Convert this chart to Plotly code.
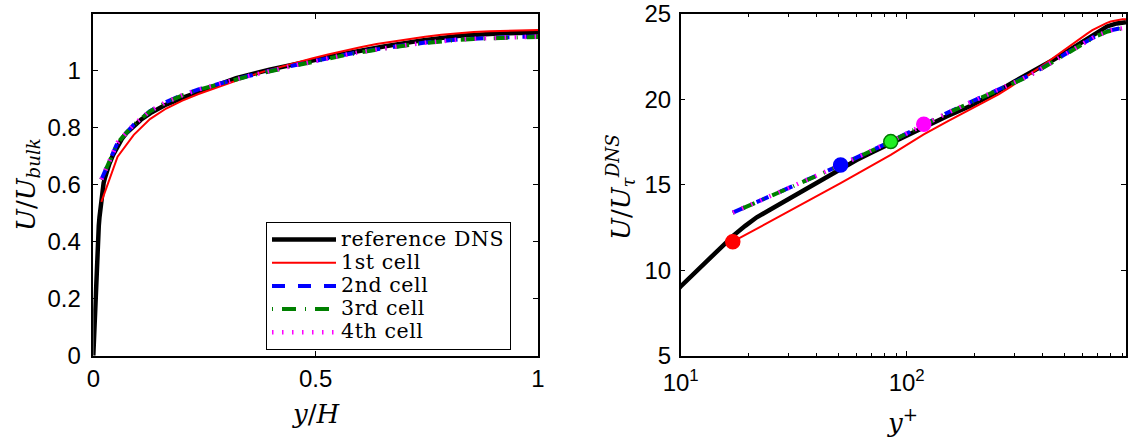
import math
import plotly.graph_objects as go

# Channel flow at Re_tau = 934: DNS reference profile and wall-modelled LES
# in which the wall model is fed from the 1st, 2nd, 3rd or 4th off-wall cell.
RE_TAU = 934.0      # y/H = y+ / Re_tau
UB_PLUS = 21.6      # bulk velocity in wall units, U/U_bulk = U+ / Ub+

# DNS reference profile (wall units)
dns_yplus = [0, 1, 2, 3, 4, 5, 6, 7, 8, 9, 10, 11.5, 13.04, 15, 17.2, 19.3,
             21.7, 24.5, 27.5, 33.7, 41.3, 51, 60, 70, 85.9, 100, 120, 150,
             190, 240, 300, 370, 450, 530, 610, 690, 770, 850, 934]
dns_uplus = [0.0, 1.0, 2.0, 3.0, 3.98, 4.93, 5.84, 6.7, 7.52, 8.3, 9.06,
             9.85, 10.53, 11.3, 12.06, 12.6, 13.1, 13.5, 13.88, 14.55, 15.22,
             15.95, 16.45, 16.9, 17.48, 17.9, 18.4, 19.0, 19.6, 20.3, 21.05,
             21.7, 22.35, 22.92, 23.45, 23.92, 24.27, 24.45, 24.52]

# LES cell centres (wall units)
les_yplus = [17, 51, 85, 119, 153, 187, 221, 255, 289, 323, 357, 391, 425,
             459, 493, 527, 561, 595, 629, 663, 697, 731, 765, 799, 833, 867,
             901, 934]

les1_uplus = [11.67, 15.1, 16.75, 17.95, 18.75, 19.35, 19.85, 20.3, 20.75,
              21.15, 21.55, 21.9, 22.25, 22.55, 22.85, 23.15, 23.4, 23.65,
              23.85, 24.05, 24.2, 24.35, 24.47, 24.56, 24.62, 24.66, 24.69,
              24.7]
les2_uplus = [13.37, 16.16, 17.53, 18.55, 19.25, 19.78, 20.2, 20.55, 20.9,
              21.2, 21.48, 21.8, 22.05, 22.3, 22.58, 22.82, 23.05, 23.25,
              23.43, 23.6, 23.75, 23.88, 23.98, 24.05, 24.11, 24.16, 24.19,
              24.2]
les3_uplus = [13.37, 16.14, 17.53, 18.53, 19.22, 19.75, 20.17, 20.52, 20.87,
              21.17, 21.45, 21.77, 22.02, 22.27, 22.55, 22.79, 23.02, 23.22,
              23.4, 23.57, 23.72, 23.85, 23.95, 24.02, 24.08, 24.13, 24.16,
              24.17]
les4_uplus = [13.38, 16.16, 17.54, 18.55, 19.24, 19.77, 20.19, 20.54, 20.89,
              21.19, 21.47, 21.79, 22.04, 22.29, 22.57, 22.81, 23.04, 23.24,
              23.42, 23.59, 23.74, 23.87, 23.97, 24.04, 24.1, 24.15, 24.18,
              24.19]

legend_names = ["reference DNS", "1st cell", "2nd cell", "3rd cell", "4th cell"]

left_xticks = [0, 0.5, 1]
left_xticktext = ["0", "0.5", "1"]
left_yticks = [0, 0.2, 0.4, 0.6, 0.8, 1]
left_yticktext = ["0", "0.2", "0.4", "0.6", "0.8", "1"]
right_xticks = [10, 100]
right_xticktext = ["10<sup>1</sup>", "10<sup>2</sup>"]
right_xminor = [20, 30, 40, 50, 60, 70, 80, 90, 200, 300, 400, 500, 600,
                700, 800, 900]
right_yticks = [5, 10, 15, 20, 25]

W, H = 1128, 439
SERIF = "DejaVu Serif"
SANS = "Liberation Sans"

series = [
    # yplus, uplus, colour, width, dash
    (dns_yplus, dns_uplus, "#000000", 4.5, "solid"),
    (les_yplus, les1_uplus, "#ff0000", 2.0, "solid"),
    (les_yplus, les2_uplus, "#0000ff", 4.0, "13px,13px"),
    (les_yplus, les3_uplus, "#008000", 4.0, "1px,9px,14px,9px"),
    (les_yplus, les4_uplus, "#ff00ff", 4.5, "1.5px,8.5px"),
]

# legend glyphs a little larger than the row pitch set by legend.font.size
LEGEND_TEXT = ('<span style="font-size:20.5px;letter-spacing:0.6px">'
               '%s</span>')

fig = go.Figure()

for (yp, up, col, lw, dash), name in zip(series, legend_names):
    # outer scaling (left panel)
    fig.add_trace(go.Scatter(
        x=[v / RE_TAU for v in yp], y=[u / UB_PLUS for u in up],
        mode="lines", name=LEGEND_TEXT % name,
        line=dict(color=col, width=lw, dash=dash),
        xaxis="x", yaxis="y", showlegend=True, hoverinfo="skip"))

for yp, up, col, lw, dash in series:
    # wall scaling (right panel)
    fig.add_trace(go.Scatter(
        x=yp, y=up, mode="lines",
        line=dict(color=col, width=lw, dash=dash),
        xaxis="x2", yaxis="y2", showlegend=False, hoverinfo="skip"))

# cell used as wall-model input, one per LES run
marker_style = [
    ("#ff0000", "#ff0000"),
    ("#0000ff", "#0000ff"),
    ("#22ee22", "#007a00"),
    ("#ff00ff", "#ff00ff"),
]
for k, (yp, up, col, lw, dash) in enumerate(series[1:]):
    fill, edge = marker_style[k]
    fig.add_trace(go.Scatter(
        x=[yp[k]], y=[up[k]], mode="markers",
        marker=dict(size=14, color=fill, line=dict(color=edge, width=1.5)),
        xaxis="x2", yaxis="y2", showlegend=False, hoverinfo="skip"))

axis_common = dict(
    showline=True, linecolor="black", linewidth=1.5, mirror="ticks",
    ticks="inside", ticklen=5, tickwidth=1, tickcolor="black",
    showgrid=False, zeroline=False, fixedrange=True, automargin=False,
    tickfont=dict(family=SANS, size=24, color="black"),
)

y_dom = [1 - 355.7 / H, 1 - 14 / H]

fig.update_layout(
    template="none",
    font=dict(family=SERIF, color="black"),
    width=W, height=H,
    margin=dict(l=0, r=0, t=0, b=0, autoexpand=False),
    paper_bgcolor="white", plot_bgcolor="white",
    xaxis=dict(axis_common, domain=[93.3 / W, 538.0 / W], range=[0, 1],
               tickmode="array", tickvals=left_xticks,
               ticktext=left_xticktext, anchor="y", ticklabelstandoff=1),
    yaxis=dict(axis_common, domain=y_dom, range=[0, 1.2],
               tickmode="array", tickvals=left_yticks,
               ticktext=left_yticktext, anchor="x", ticklabelstandoff=6),
    xaxis2=dict(axis_common, domain=[680.7 / W, 1126.0 / W], type="log",
                range=[1, math.log10(RE_TAU)], tickmode="array",
                tickvals=right_xticks, ticktext=right_xticktext, anchor="y2",
                ticklabelstandoff=5,
                minor=dict(ticks="inside", ticklen=3, tickwidth=1,
                           tickcolor="black", tickmode="array",
                           tickvals=right_xminor)),
    yaxis2=dict(axis_common, domain=y_dom, range=[5, 25], tickmode="array",
                tickvals=right_yticks, anchor="x2", ticklabelstandoff=3),
    legend=dict(x=266 / W, y=1 - 222 / H, xanchor="left", yanchor="top",
                bgcolor="white", bordercolor="black", borderwidth=1,
                font=dict(family=SERIF, size=15.5, color="black"),
                itemwidth=64, tracegroupgap=0),
    showlegend=True,
)

title_font = dict(family=SERIF, size=26, color="black")
fig.add_annotation(text="<i>y</i>/<i>H</i>", xref="paper", yref="paper",
                   x=316 / W, y=1 - 414 / H, showarrow=False,
                   xanchor="center", yanchor="middle", font=title_font)
fig.add_annotation(text="<i>y</i><sup>+</sup>", xref="paper", yref="paper",
                   x=903 / W, y=1 - 421 / H, showarrow=False,
                   xanchor="center", yanchor="middle", font=title_font)
fig.add_annotation(text="<i>U</i>/<i>U</i><sub><i>bulk</i></sub>",
                   xref="paper", yref="paper", x=27 / W, y=1 - 185 / H,
                   showarrow=False, textangle=-90, xanchor="center",
                   yanchor="middle", font=title_font)
fig.add_annotation(text="<i>U</i>/<i>U</i><sub><i>τ</i></sub><sup><i>DNS</i></sup>",
                   xref="paper", yref="paper", x=620 / W, y=1 - 187 / H,
                   showarrow=False, textangle=-90, xanchor="center",
                   yanchor="middle", font=title_font)

fig.write_html("out.html", config={"displayModeBar": False})
